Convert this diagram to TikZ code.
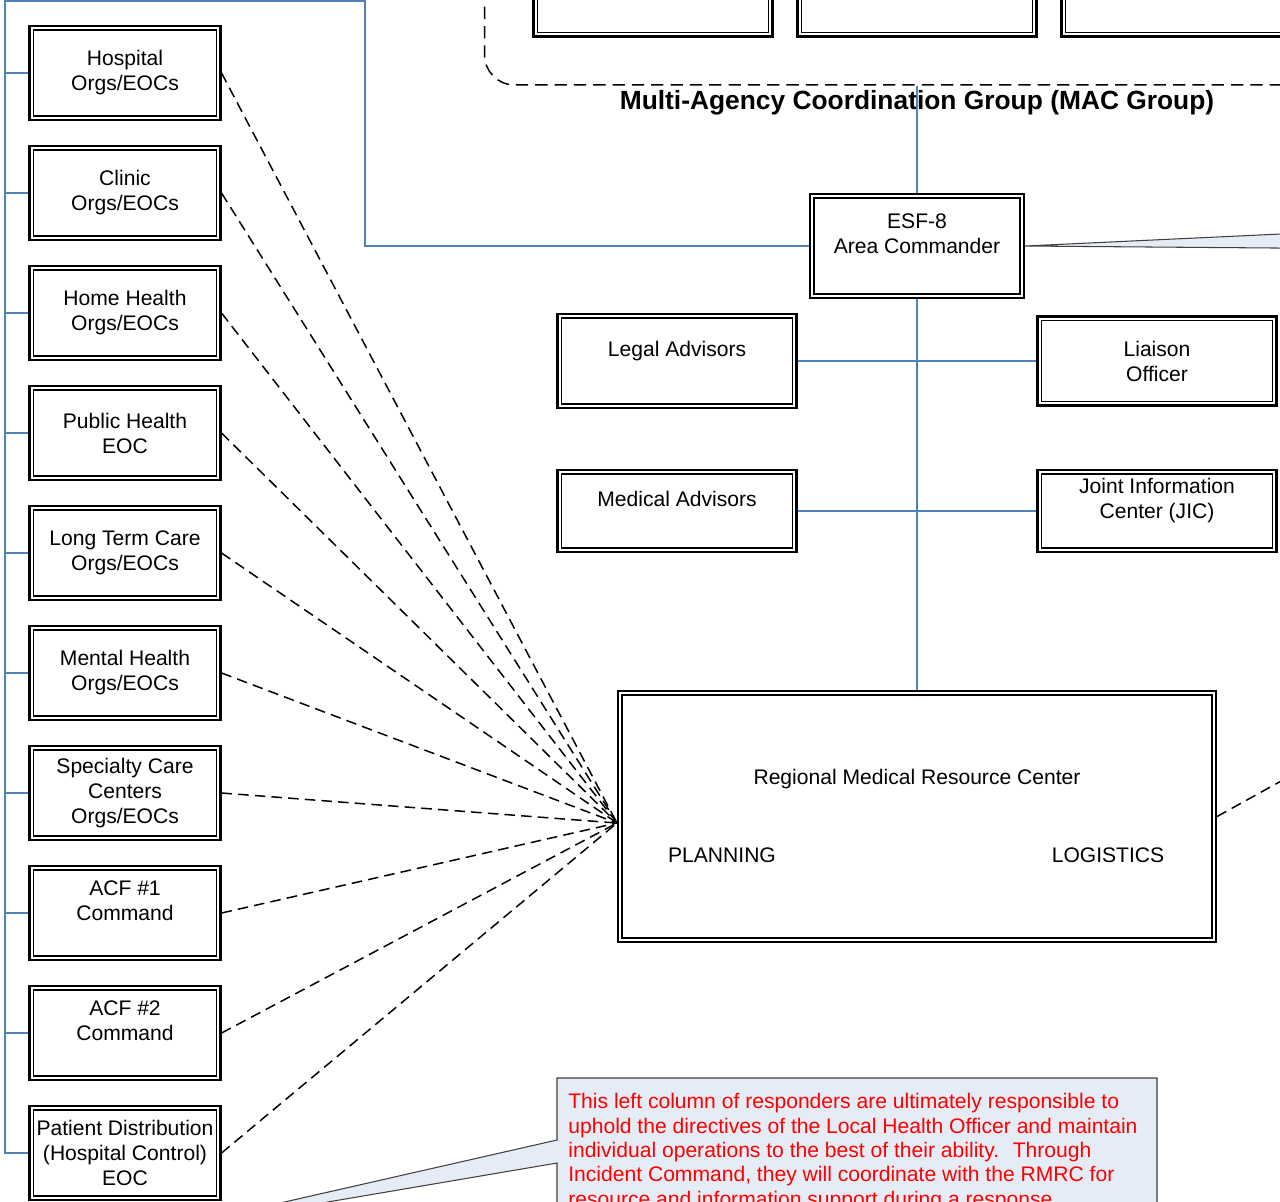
\documentclass[tikz,border=0pt]{standalone}
\usepackage{fontspec}
\setmainfont{Liberation Sans}

\definecolor{orgblue}{HTML}{4F81BD}
\definecolor{notefill}{HTML}{E6ECF6}

\tikzset{
  unitbox/.style={draw, fill=white, line width=1.2pt, align=center, inner sep=1pt,
    font=\fontsize{12}{14.2}\selectfont,
    path picture={\draw[line width=0.7pt]
      ([shift={(2.3pt,-2.3pt)}]path picture bounding box.north west) rectangle
      ([shift={(-2.3pt,2.3pt)}]path picture bounding box.south east);}},
  orgbox/.style={unitbox, minimum width=3.82cm, minimum height=1.88cm},
  staffbox/.style={unitbox, minimum width=4.78cm},
  blueline/.style={draw=orgblue, line width=0.9pt},
  dashline/.style={draw, line width=0.85pt, dash pattern=on 6pt off 3.5pt},
  callout/.style={fill=notefill, draw=black!75, line width=0.6pt},
  plaintext/.style={font=\fontsize{12}{14.2}\selectfont, inner sep=0pt},
}

\begin{document}
\begin{tikzpicture}[x=0.02cm, y=-0.02cm]
    \useasboundingbox (0,0) rectangle (1280,1201);
    \clip (0,0) rectangle (1280,1201);

    % MAC group at the top
    \node[draw, line width=0.85pt, dash pattern=on 7pt off 4pt, rounded corners=0.6cm,
          minimum width=18.3cm, minimum height=5cm] (mac group) at (942,-40) {};
    \foreach \i/\cx in {1/653, 2/917, 3/1181}
        \node[staffbox, minimum height=1.9cm] (mac unit\i) at (\cx,-11) {};
    \node[font=\bfseries\fontsize{15}{18}\selectfont, inner sep=0pt] (mac title) at (917,103)
        {Multi-Agency Coordination Group (MAC Group)};

    % command and staff
    \node[unitbox, minimum width=4.28cm, minimum height=2.08cm] (esf) at (917,246)
        {ESF-8\\Area Commander\\~};
    \node[staffbox, minimum height=1.88cm] (legal) at (677,361) {Legal Advisors\\~};
    \node[staffbox, minimum height=1.78cm] (liaison) at (1157,361) {Liaison\\Officer};
    \node[staffbox, minimum height=1.64cm] (medical) at (677,511) {Medical Advisors\\~};
    \node[staffbox, minimum height=1.64cm] (jic) at (1157,511)
        {Joint Information\\Center (JIC)\\~};

    % RMRC
    \node[unitbox, minimum width=11.96cm, minimum height=5.02cm] (rmrc) at (917,816.5) {};
    \node[plaintext] (rmrc label) at (917,779) {Regional Medical Resource Center};
    \node[plaintext] (planning) at (722,855) {PLANNING};
    \node[plaintext] (logistics) at (1108,855) {LOGISTICS};

    % left column of responders
    \foreach \i/\txt in {1/{Hospital\\Orgs/EOCs}, 2/{Clinic\\Orgs/EOCs},
        3/{Home Health\\Orgs/EOCs}, 4/{Public Health\\EOC},
        5/{Long Term Care\\Orgs/EOCs}, 6/{Mental Health\\Orgs/EOCs},
        7/{Specialty Care\\Centers\\Orgs/EOCs}, 8/{ACF \#1\\Command\\~},
        9/{ACF \#2\\Command\\~}, 10/{Patient Distribution\\(Hospital Control)\\EOC}}
        \node[orgbox] (org\i) at (125,{73+120*(\i-1)}) {\txt};

    % dashed links to the RMRC
    \coordinate (hub) at (617,823);
    \foreach \i in {1,...,10}
        \draw[dashline] (org\i.east) -- (hub);
    \coordinate (rmrc exit) at (1300,770.6);
    \draw[dashline] (rmrc.east) -- (rmrc exit);

    % blue command lines
    \coordinate (spine top) at (5,1);
    \coordinate (spine bend) at (365,1);
    \draw[blueline] (esf.west) -| (spine bend) -- (spine top) |- (org10.west);
    \foreach \i in {1,...,9}
        \draw[blueline] (spine top |- org\i.west) -- (org\i.west);
    \draw[blueline] (mac group.south -| esf.north) -- (esf.north);
    \draw[blueline] (esf.south) -- (rmrc.north);
    \draw[blueline] (legal.east) -- (legal.east -| liaison.west);
    \draw[blueline] (medical.east) -- (jic.west);

    % callouts
    \filldraw[callout] (esf.east) -- (1300,233.1) -- (1300,248.2) -- cycle;
    \coordinate (note tip) at (157,1231);
    \filldraw[callout] (557,1078) -- (1157,1078) -- (1157,1260) -- (557,1260)
        -- (557,1163) -- (note tip) -- (557,1140) -- cycle;
    \node[plaintext, font=\fontsize{12}{13.9}\selectfont, text=red, align=left,
          anchor=north west] (note) at (568,1093)
        {This left column of responders are ultimately responsible to\\
         uphold the directives of the Local Health Officer and maintain\\
         individual operations to the best of their ability.~ Through\\
         Incident Command, they will coordinate with the RMRC for\\
         resource and information support during a response.};
\end{tikzpicture}
\end{document}
